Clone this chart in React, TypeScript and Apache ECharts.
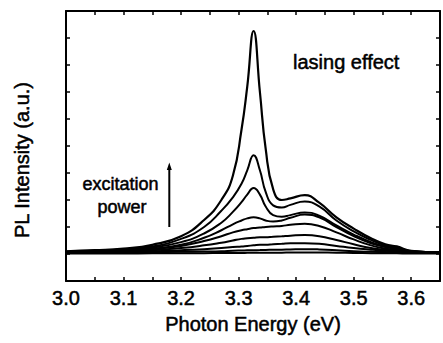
import React, { useEffect, useRef } from "react";
import * as echarts from "echarts";

const energies = [3.0, 3.05, 3.1, 3.15, 3.2, 3.24, 3.27, 3.29, 3.305, 3.315, 3.326, 3.337, 3.347, 3.36, 3.375, 3.39, 3.415, 3.44, 3.47, 3.5, 3.53, 3.555, 3.575, 3.6, 3.65];

const curve1 = [0.05, 0.07, 0.1, 0.17, 0.33, 0.63, 1.0, 1.45, 2.3, 3.1, 4.13, 3.0, 1.95, 1.2, 1.0, 1.03, 1.09, 0.95, 0.68, 0.47, 0.29, 0.18, 0.14, 0.06, 0.03];
const curve2 = [0.04, 0.06, 0.09, 0.14, 0.28, 0.5, 0.8, 1.05, 1.3, 1.55, 1.83, 1.55, 1.15, 0.9, 0.86, 0.91, 0.97, 0.88, 0.62, 0.42, 0.26, 0.16, 0.12, 0.05, 0.03];
const curve3 = [0.04, 0.05, 0.08, 0.12, 0.22, 0.38, 0.58, 0.78, 0.96, 1.1, 1.22, 1.1, 0.88, 0.72, 0.69, 0.72, 0.77, 0.71, 0.53, 0.36, 0.22, 0.14, 0.1, 0.05, 0.03];
const curve4 = [0.03, 0.05, 0.07, 0.1, 0.17, 0.3, 0.44, 0.55, 0.62, 0.66, 0.68, 0.66, 0.62, 0.6, 0.62, 0.67, 0.73, 0.68, 0.5, 0.33, 0.2, 0.13, 0.09, 0.04, 0.03];
const curve5 = [0.03, 0.04, 0.06, 0.09, 0.15, 0.24, 0.33, 0.4, 0.44, 0.46, 0.48, 0.49, 0.5, 0.51, 0.52, 0.54, 0.56, 0.52, 0.4, 0.27, 0.16, 0.1, 0.07, 0.04, 0.03];
const curve6 = [0.03, 0.04, 0.05, 0.07, 0.11, 0.16, 0.21, 0.25, 0.28, 0.29, 0.3, 0.31, 0.31, 0.32, 0.33, 0.34, 0.35, 0.33, 0.26, 0.18, 0.11, 0.08, 0.06, 0.04, 0.03];
const curve7 = [0.03, 0.035, 0.04, 0.05, 0.07, 0.09, 0.11, 0.13, 0.14, 0.15, 0.16, 0.17, 0.17, 0.18, 0.19, 0.2, 0.2, 0.19, 0.15, 0.11, 0.08, 0.06, 0.05, 0.035, 0.03];
const curve8 = [0.02, 0.025, 0.03, 0.035, 0.04, 0.045, 0.05, 0.06, 0.065, 0.068, 0.07, 0.072, 0.075, 0.078, 0.08, 0.085, 0.09, 0.085, 0.07, 0.05, 0.04, 0.035, 0.03, 0.03, 0.02];
const curve9 = [0.01, 0.01, 0.01, 0.012, 0.014, 0.016, 0.018, 0.02, 0.02, 0.021, 0.022, 0.022, 0.023, 0.024, 0.025, 0.027, 0.03, 0.028, 0.024, 0.02, 0.016, 0.014, 0.012, 0.01, 0.01];

const curves = [curve1, curve2, curve3, curve4, curve5, curve6, curve7, curve8, curve9];

const xTickLabels = ["3.0", "3.1", "3.2", "3.3", "3.4", "3.5", "3.6"];

const FONT = '"Liberation Sans", Arial, Helvetica, sans-serif';
const TEXT_STROKE = { textBorderColor: "#000", textBorderWidth: 0.5 };

export default function App() {
  const ref = useRef<HTMLDivElement>(null);
  useEffect(() => {
    if (!ref.current) return;
    const chart = echarts.init(ref.current, null, { renderer: "svg" });
    const axisLine = { show: true, onZero: false, lineStyle: { color: "#000", width: 2 } };
    const xCommon = {
      type: "value",
      min: 3.0,
      max: 3.65,
      interval: 0.05,
      axisLine,
      axisTick: { show: true, inside: true, length: 4, lineStyle: { color: "#000", width: 1.5 } },
      splitLine: { show: false },
    };
    const yCommon = {
      type: "value",
      min: -0.5,
      max: 4.5,
      interval: 0.5,
      axisLine,
      axisTick: { show: true, inside: true, length: 4, lineStyle: { color: "#000", width: 1.5 } },
      axisLabel: { show: false },
      splitLine: { show: false },
    };
    chart.setOption({
      animation: false,
      grid: { left: 66, top: 11, width: 379, height: 270, containLabel: false },
      xAxis: [
        {
          ...xCommon,
          position: "bottom",
          name: "Photon Energy (eV)",
          nameLocation: "middle",
          nameGap: 33,
          nameTextStyle: { fontFamily: FONT, fontSize: 20, color: "#000", ...TEXT_STROKE },
          axisLabel: {
            show: true,
            margin: 7,
            fontFamily: FONT,
            fontSize: 20,
            color: "#000",
            ...TEXT_STROKE,
            formatter: (v: number) => {
              const k = Math.round(v * 10);
              if (Math.abs(v * 10 - k) > 1e-6) return "";
              const s = (k / 10).toFixed(1);
              return xTickLabels.indexOf(s) >= 0 ? s : "";
            },
          },
        },
        { ...xCommon, position: "top", axisLabel: { show: false } },
      ],
      yAxis: [
        { ...yCommon, position: "left" },
        { ...yCommon, position: "right" },
      ],
      graphic: [
        {
          type: "text",
          x: 22,
          y: 160,
          rotation: Math.PI / 2,
          style: { text: "PL Intensity (a.u.)", fill: "#000", fontFamily: FONT, fontSize: 20, align: "center", verticalAlign: "middle", stroke: "#000", lineWidth: 0.5 },
        },
        {
          type: "text",
          x: 293,
          y: 62,
          style: { text: "lasing effect", fill: "#000", fontFamily: FONT, fontSize: 20, align: "left", verticalAlign: "middle", stroke: "#000", lineWidth: 0.5 },
        },
        {
          type: "text",
          x: 120.5,
          y: 184,
          style: { text: "excitation", fill: "#000", fontFamily: FONT, fontSize: 18, align: "center", verticalAlign: "middle", stroke: "#000", lineWidth: 0.5 },
        },
        {
          type: "text",
          x: 122,
          y: 207,
          style: { text: "power", fill: "#000", fontFamily: FONT, fontSize: 18, align: "center", verticalAlign: "middle", stroke: "#000", lineWidth: 0.5 },
        },
        {
          type: "line",
          shape: { x1: 169.3, y1: 227, x2: 169.3, y2: 168 },
          style: { stroke: "#000", lineWidth: 2 },
        },
        {
          type: "polygon",
          shape: { points: [[166.8, 170], [171.8, 170], [169.3, 162.5]] },
          style: { fill: "#000" },
        },
      ],
      series: curves.map((c, i) => ({
        type: "line",
        xAxisIndex: 0,
        yAxisIndex: 0,
        data: energies.map((e, j) => [e, c[j]]),
        showSymbol: false,
        smooth: 0.5,
        lineStyle: { color: "#000", width: i === 0 ? 2.2 : 2 },
        z: 3,
      })),
    });
    return () => chart.dispose();
  }, []);
  return <div ref={ref} style={{ width: 443, height: 343, position: "absolute", left: 0, top: 0, background: "#fff" }} />;
}
